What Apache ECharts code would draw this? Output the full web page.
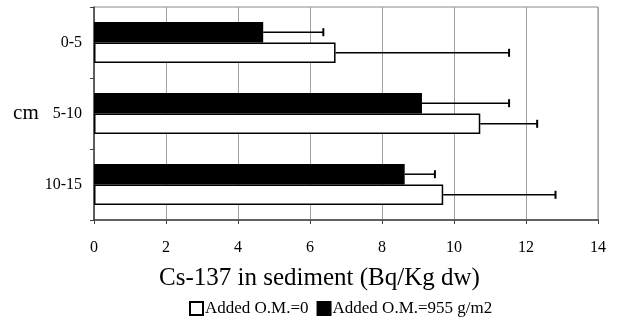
<!DOCTYPE html>
<html><head><meta charset="utf-8">
<script src="https://cdn.jsdelivr.net/npm/echarts@6/dist/echarts.min.js"></script>
<style>html,body{margin:0;padding:0;background:#fff}#c{width:618px;height:325px}</style>
</head><body><div id="c"></div>
<script>
const categories = ['0-5', '5-10', '10-15'];
const xTicks = [0, 2, 4, 6, 8, 10, 12, 14];
const nameControl = 'Added O.M.=0';
const nameAdded = 'Added O.M.=955 g/m2';
const valuesControl = [6.71, 10.73, 9.70];
const errorTopControl = [11.53, 12.31, 12.82];
const valuesAdded = [4.70, 9.11, 8.63];
const errorTopAdded = [6.37, 11.53, 9.47];

const FONT = '"Liberation Serif", "Times New Roman", serif';
const chart = echarts.init(document.getElementById('c'));

function errSeries(vals, tops, dir) {
  return {
    type: 'custom',
    silent: true,
    z: 5,
    data: categories.map((c, i) => [i, vals[i], tops[i]]),
    renderItem: function (params, api) {
      const band = api.size([0, 1])[1];
      const off = dir * band * 0.145;
      const p0 = api.coord([api.value(1), api.value(0)]);
      const p1 = api.coord([api.value(2), api.value(0)]);
      const y = p0[1] + off;
      const st = { stroke: '#000', lineWidth: 1.5 };
      return {
        type: 'group',
        children: [
          { type: 'line', shape: { x1: p0[0], y1: y, x2: p1[0], y2: y }, style: st },
          { type: 'line', shape: { x1: p1[0], y1: y - 4, x2: p1[0], y2: y + 4 }, style: { stroke: '#000', lineWidth: 2 } }
        ]
      };
    }
  };
}

chart.setOption({
  animation: false,
  backgroundColor: '#fff',
  grid: { left: 94, right: 20, top: 7, bottom: 105, show: true, borderColor: '#8a8a8a', borderWidth: 1 },
  title: {
    text: 'Cs-137 in sediment (Bq/Kg dw)', left: 154, top: 261,
    textStyle: { fontFamily: FONT, fontSize: 25, fontWeight: 'normal', color: '#000' }
  },
  legend: {
    bottom: 3, left: 184, itemWidth: 13, itemHeight: 13, itemGap: 8, icon: 'rect',
    data: [nameControl, nameAdded],
    textStyle: { fontFamily: FONT, fontSize: 17, color: '#000', padding: [0, 0, 0, -3] }
  },
  xAxis: {
    type: 'value', min: 0, max: 14, interval: 2,
    axisLine: { show: true, lineStyle: { color: '#404040', width: 1.5 } },
    axisTick: { show: true, length: 4, lineStyle: { color: '#404040' } },
    axisLabel: { fontFamily: FONT, fontSize: 16, color: '#000', margin: 20,
      formatter: v => xTicks.includes(v) ? String(v) : '' },
    splitLine: { show: true, lineStyle: { color: '#a0a0a0', width: 1 } }
  },
  yAxis: {
    type: 'category', data: categories, inverse: true,
    name: 'cm', nameLocation: 'middle', nameRotate: 0, nameGap: 54,
    nameTextStyle: { fontFamily: FONT, fontSize: 21, color: '#000', padding: [14, 0, 0, 0] },
    axisLine: { show: true, lineStyle: { color: '#404040', width: 1.5 } },
    axisTick: { show: true, length: 4, lineStyle: { color: '#404040' } },
    axisLabel: { fontFamily: FONT, fontSize: 16, color: '#000', margin: 12, padding: [5, 0, 0, 0] },
    splitLine: { show: false }
  },
  series: [
    { name: nameAdded, type: 'bar', data: valuesAdded, barGap: '0%', barCategoryGap: '42%',
      itemStyle: { color: '#000', borderColor: '#000', borderWidth: 1.5 } },
    { name: nameControl, type: 'bar', data: valuesControl, barGap: '0%', barCategoryGap: '42%',
      itemStyle: { color: '#fff', borderColor: '#000', borderWidth: 1.5 } },
    errSeries(valuesAdded, errorTopAdded, -1),
    errSeries(valuesControl, errorTopControl, 1)
  ]
});
</script></body></html>
